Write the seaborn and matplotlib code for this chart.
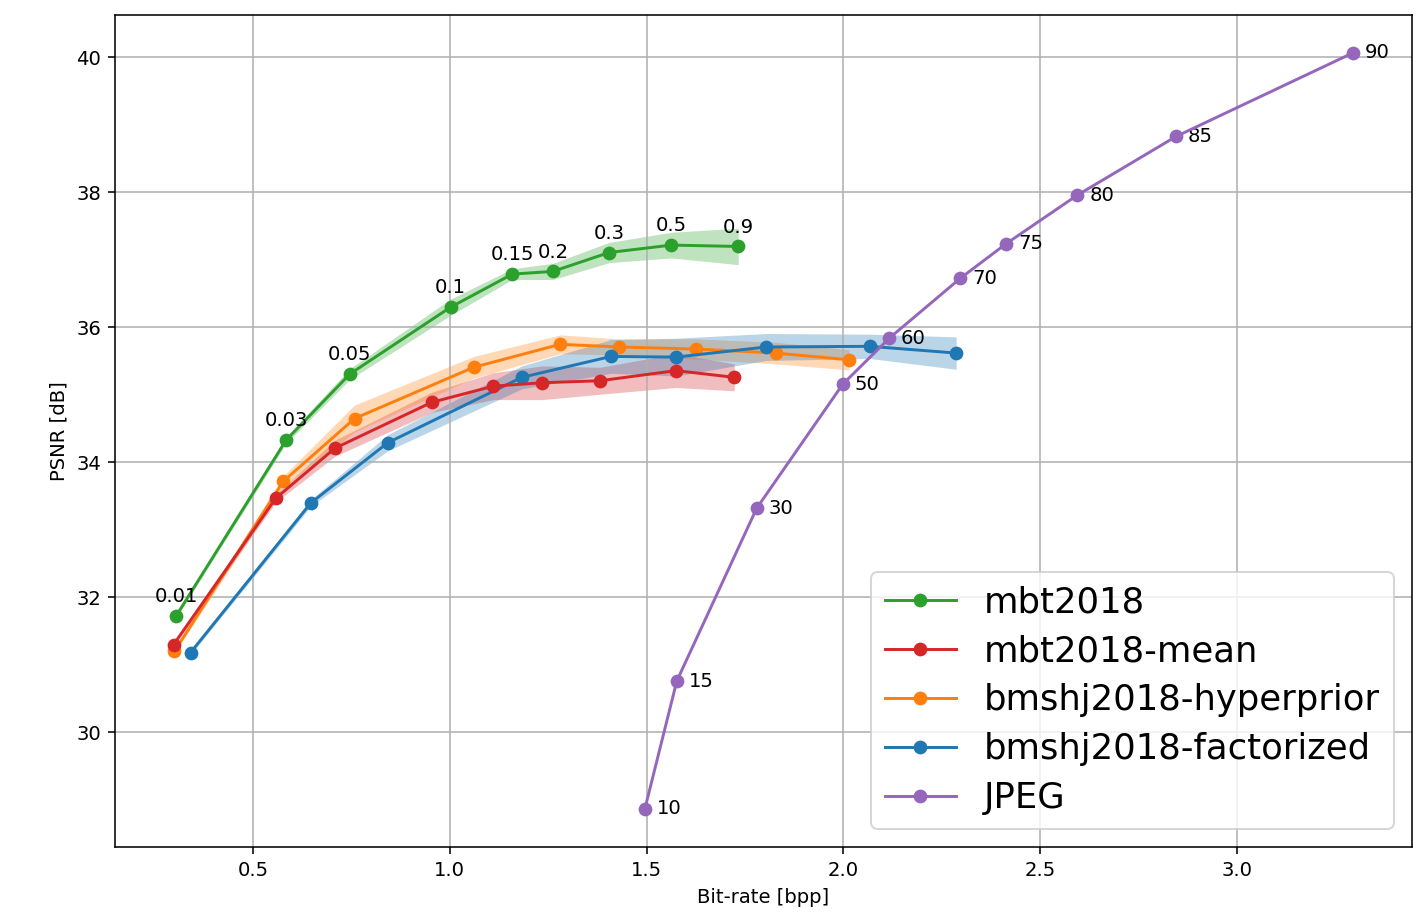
import numpy as np
import matplotlib
matplotlib.use("Agg")
import matplotlib.pyplot as plt
import seaborn as sns

# values
mbt_x = [0.304, 0.584, 0.746, 1.002, 1.159, 1.262, 1.405, 1.563, 1.733]
mbt_y = [31.72, 34.33, 35.31, 36.30, 36.79, 36.83, 37.11, 37.22, 37.20]
mbt_err = [0.03, 0.05, 0.08, 0.12, 0.08, 0.12, 0.15, 0.19, 0.27]
mbt_labels = ['0.01', '0.03', '0.05', '0.1', '0.15', '0.2', '0.3', '0.5', '0.9']

mean_x = [0.298, 0.558, 0.708, 0.954, 1.111, 1.235, 1.382, 1.575, 1.723]
mean_y = [31.30, 33.47, 34.21, 34.89, 35.13, 35.18, 35.21, 35.36, 35.26]
mean_err = [0.03, 0.06, 0.12, 0.15, 0.20, 0.25, 0.20, 0.25, 0.20]

hyper_x = [0.300, 0.577, 0.758, 1.061, 1.281, 1.430, 1.627, 1.828, 2.015]
hyper_y = [31.20, 33.72, 34.65, 35.41, 35.75, 35.71, 35.68, 35.62, 35.52]
hyper_err = [0.03, 0.08, 0.20, 0.16, 0.14, 0.12, 0.15, 0.16, 0.15]

fact_x = [0.341, 0.647, 0.842, 1.183, 1.410, 1.575, 1.804, 2.067, 2.287]
fact_y = [31.18, 33.40, 34.29, 35.26, 35.57, 35.56, 35.71, 35.72, 35.62]
fact_err = [0.03, 0.05, 0.12, 0.17, 0.25, 0.28, 0.20, 0.18, 0.24]

jpeg_x = [1.496, 1.577, 1.780, 1.999, 2.117, 2.298, 2.414, 2.595, 2.846, 3.296]
jpeg_y = [28.87, 30.76, 33.32, 35.16, 35.84, 36.73, 37.24, 37.96, 38.83, 40.07]
jpeg_labels = ['10', '15', '30', '50', '60', '70', '75', '80', '85', '90']

fig, ax = plt.subplots(figsize=(10, 6.462), dpi=141.6)
fig.subplots_adjust(left=0.0812, right=0.997, top=0.9836, bottom=0.0743)

series = [
    ('mbt2018', mbt_x, mbt_y, mbt_err, 'tab:green', 3),
    ('mbt2018-mean', mean_x, mean_y, mean_err, 'tab:red', 4),
    ('bmshj2018-hyperprior', hyper_x, hyper_y, hyper_err, 'tab:orange', 3),
    ('bmshj2018-factorized', fact_x, fact_y, fact_err, 'tab:blue', 3),
]

for name, xs, ys, err, col, z in series:
    ys_a = np.array(ys)
    err_a = np.array(err)
    ax.fill_between(xs, ys_a - err_a, ys_a + err_a, color=col, alpha=0.3, linewidth=0)
    sns.lineplot(x=xs, y=ys, ax=ax, color=col, marker='o', markersize=7,
                 markeredgecolor=col, markeredgewidth=0, linewidth=1.5,
                 sort=False, label=name, zorder=z)

sns.lineplot(x=jpeg_x, y=jpeg_y, ax=ax, color='tab:purple', marker='o', markersize=7,
             markeredgecolor='tab:purple', markeredgewidth=0, linewidth=1.5,
             sort=False, label='JPEG', zorder=4)

for lbl, x, y in zip(mbt_labels, mbt_x, mbt_y):
    ax.annotate(lbl, (x, y), xytext=(0, 5), textcoords='offset points',
                ha='center', va='bottom', fontsize=10)

for lbl, x, y in zip(jpeg_labels, jpeg_x, jpeg_y):
    ax.annotate(lbl, (x, y), xytext=(6, 0), textcoords='offset points',
                ha='left', va='center', fontsize=10)

ax.set_xlim(0.149, 3.445)
ax.set_ylim(28.3, 40.63)
ax.set_xticks([0.5, 1.0, 1.5, 2.0, 2.5, 3.0])
ax.set_yticks([30, 32, 34, 36, 38, 40])
ax.set_xlabel('Bit-rate [bpp]')
ax.set_ylabel('PSNR [dB]')
ax.grid(True)
ax.legend(loc='lower right', fontsize=18, labelspacing=0.42)

plt.savefig('out.png', dpi=141.6)
